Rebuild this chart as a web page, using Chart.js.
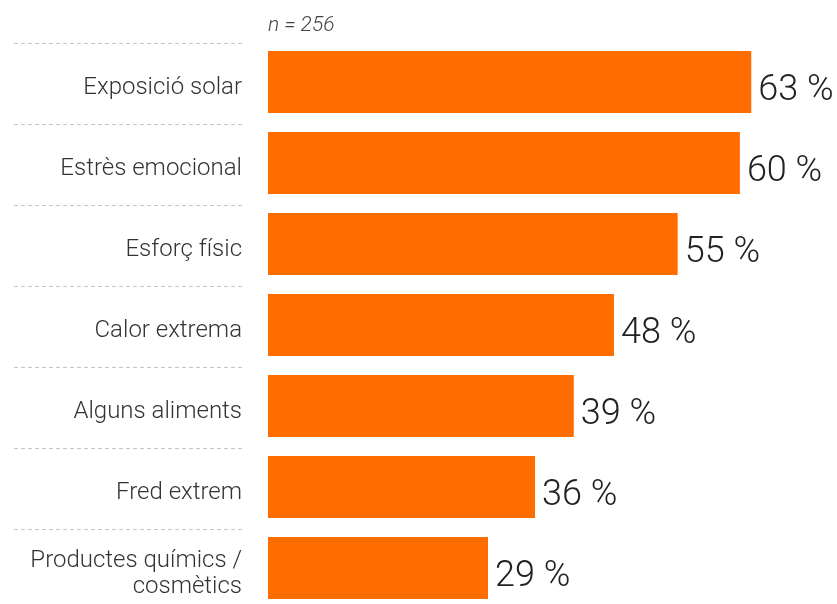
<!DOCTYPE html>
<html>
<head>
<meta charset="utf-8">
<script src="https://cdn.jsdelivr.net/npm/chart.js@4.4.1/dist/chart.umd.min.js"></script>
<style>
  html, body { margin: 0; padding: 0; background: #fff; overflow: hidden; }
  #wrap { position: relative; width: 837px; height: 610px; }
</style>
</head>
<body>
<div id="wrap"><canvas id="c"></canvas></div>
<script>
const categories = [
  "Exposició solar",
  "Estrès emocional",
  "Esforç físic",
  "Calor extrema",
  "Alguns aliments",
  "Fred extrem",
  ["Productes químics /", "cosmètics"]
];
// bar lengths
const values = [63.7, 62.2, 54.0, 45.6, 40.3, 35.2, 29.0];
// printed value labels
const valueLabels = ["63 %", "60 %", "55 %", "48 %", "39 %", "36 %", "29 %"];
const sampleNote = "n = 256";

const separators = {
  id: 'separators',
  beforeDraw(chart) {
    const ctx = chart.ctx;
    const y = chart.scales.y;
    const n = categories.length;
    const pitch = (y.bottom - y.top) / n;
    ctx.save();
    ctx.strokeStyle = '#c4c4c4';
    ctx.lineWidth = 1;
    ctx.setLineDash([4, 3]);
    for (let i = 0; i < n; i++) {
      const yy = Math.round(y.getPixelForValue(i) - pitch / 2 + 1.5) + 0.5;
      ctx.beginPath();
      ctx.moveTo(14, yy);
      ctx.lineTo(244, yy);
      ctx.stroke();
    }
    ctx.restore();
    ctx.save();
    ctx.font = 'italic 300 21px Roboto';
    ctx.fillStyle = '#444';
    ctx.textBaseline = 'alphabetic';
    ctx.textAlign = 'left';
    ctx.fillText(sampleNote, chart.chartArea.left, 31);
    ctx.restore();
  },
  afterDatasetsDraw(chart) {
    const ctx = chart.ctx;
    const meta = chart.getDatasetMeta(0);
    ctx.save();
    ctx.font = '300 36px Roboto';
    ctx.fillStyle = '#222';
    ctx.textAlign = 'left';
    ctx.textBaseline = 'alphabetic';
    meta.data.forEach((bar, i) => {
      ctx.fillText(valueLabels[i], bar.x + 7, bar.y + 17.5);
    });
    ctx.restore();
  }
};

new Chart(document.getElementById('c'), {
  type: 'bar',
  data: {
    labels: categories,
    datasets: [{
      data: values,
      backgroundColor: '#FF6C00',
      borderWidth: 0,
      barPercentage: 62 / 81,
      categoryPercentage: 1
    }]
  },
  options: {
    indexAxis: 'y',
    responsive: true,
    maintainAspectRatio: false,
    animation: false,
    layout: { padding: { top: 41.5, bottom: 1.5, left: 0, right: 0 } },
    plugins: { legend: { display: false }, tooltip: { enabled: false } },
    scales: {
      x: { display: false, min: 0, max: 75 },
      y: {
        grid: { display: false, drawTicks: false },
        border: { display: false },
        ticks: {
          padding: 26,
          labelOffset: 6,
          color: '#333',
          font: { family: 'Roboto', size: 24, weight: 300, lineHeight: 1.1 }
        },
        afterFit(scale) {
          scale.width = 268;
          scale.paddingTop = 0;
          scale.paddingBottom = 0;
        }
      }
    }
  },
  plugins: [separators]
});
</script>
</body>
</html>
